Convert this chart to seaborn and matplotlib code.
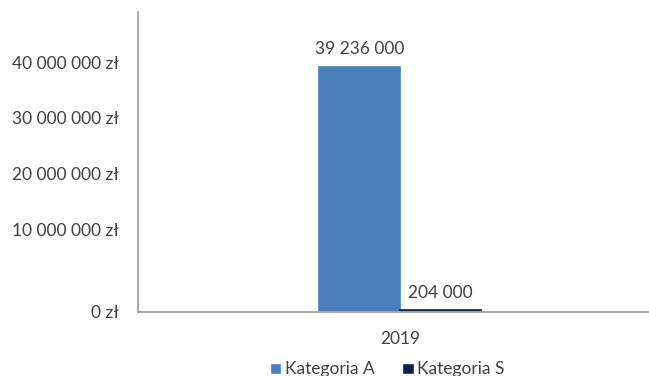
import numpy as np
import pandas as pd
import matplotlib
matplotlib.use("Agg")
import matplotlib.pyplot as plt
import seaborn as sns

years = ["2019"]
series = ["Kategoria A", "Kategoria S"]
values = [39236000, 204000]
colors = ["#4A7EBB", "#0F1F47"]
tick_values = [0, 10000000, 20000000, 30000000, 40000000]
tick_labels = ["0 zł", "10 000 000 zł", "20 000 000 zł", "30 000 000 zł", "40 000 000 zł"]
value_labels = ["39 236 000", "204 000"]

df = pd.DataFrame({"rok": years * len(series), "seria": series, "wartosc": values})

sns.set_theme(style="white")
plt.rcParams["font.family"] = ["Lato", "DejaVu Sans"]
TXT = "#404040"
FS = 12.5

fig = plt.figure(figsize=(6.49, 3.76), dpi=100)
ax = fig.add_axes([138/649, 1 - 312/376, (649 - 138)/649, (312 - 12)/376])

# piecewise axis scale to follow the reference's tick spacing
src = np.array([0, 10e6, 20e6, 30e6, 40e6, 46e6])
dst = np.array([0, 82.0, 138.0, 194.0, 249.3, 300.0])
def fwd(v):
    return np.interp(v, src, dst)
def inv(v):
    return np.interp(v, dst, src)
ax.set_yscale("function", functions=(fwd, inv))

sns.barplot(data=df, x="rok", y="wartosc", hue="seria", palette=colors,
            width=0.8, ax=ax, saturation=1, legend=True)

bars = [p for p in ax.patches if p.get_height() > 0]
for p, lab in zip(bars, value_labels):
    p.set_edgecolor(p.get_facecolor())
    p.set_linewidth(1.2)
    ax.annotate(lab, (p.get_x() + p.get_width()/2, p.get_height()),
                xytext=(0, 7), textcoords="offset points", ha="center", va="bottom",
                fontsize=FS, color=TXT)

ax.set_ylim(0, 46e6)
ax.set_xlim(-1.295, 1.228)
ax.set_yticks(tick_values)
ax.set_yticklabels(tick_labels)
ax.set_xlabel("")
ax.set_ylabel("")
ax.tick_params(axis="y", length=0, pad=14, labelsize=FS, labelcolor=TXT)
ax.tick_params(axis="x", length=0, pad=14, labelsize=FS, labelcolor=TXT)
for s in ["top", "right"]:
    ax.spines[s].set_visible(False)
for s in ["left", "bottom"]:
    ax.spines[s].set_color("#A6A6A6")
    ax.spines[s].set_linewidth(1.4)
ax.grid(False)

leg = ax.legend(loc="upper center", bbox_to_anchor=(0.488, -0.13), ncol=2, frameon=False,
                fontsize=FS, handlelength=0.65, handleheight=0.65, handletextpad=0.2,
                columnspacing=1.6, labelcolor=TXT, borderpad=0.1)

fig.savefig("out.png", dpi=100, facecolor="white")
